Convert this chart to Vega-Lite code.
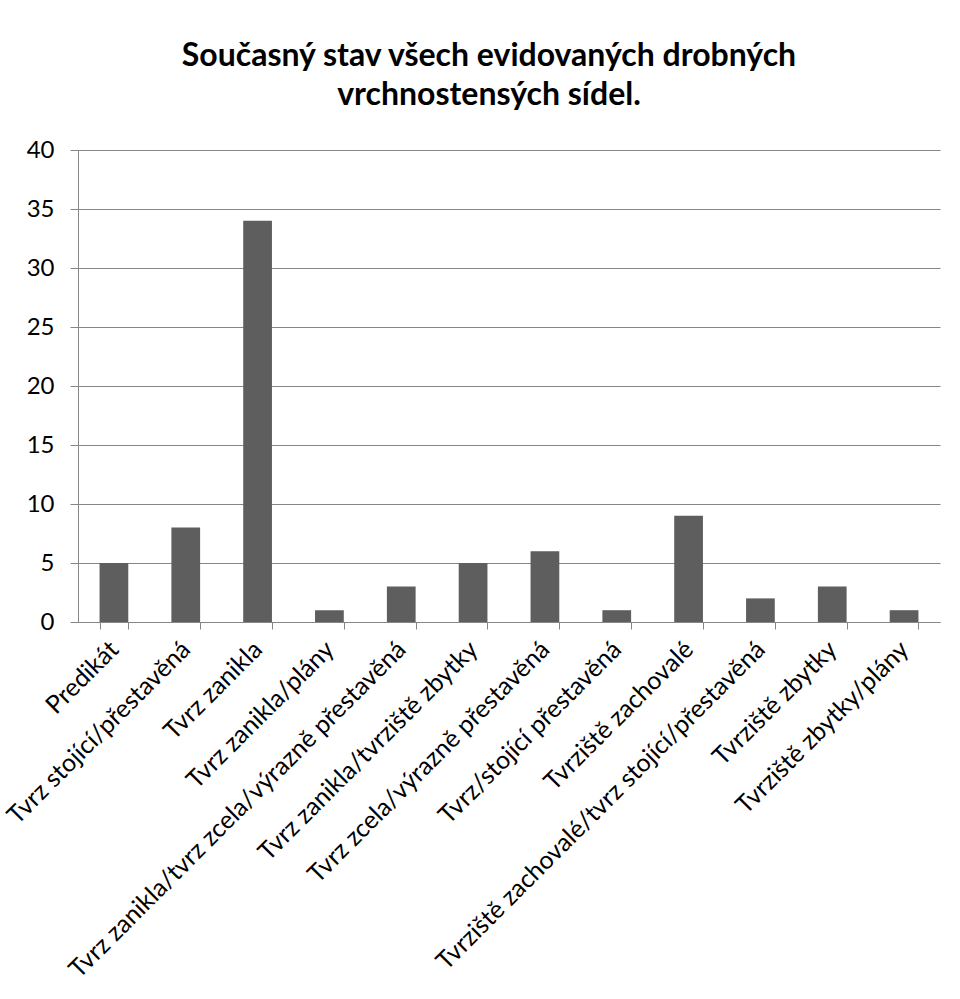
{
  "$schema": "https://vega.github.io/schema/vega-lite/v6.json",
  "autosize": {"type": "none"},
  "width": 862,
  "height": 472,
  "padding": {"left": 78, "top": 150, "right": 20, "bottom": 377},
  "background": "white",
  "title": {
    "text": ["Současný stav všech evidovaných drobných", "vrchnostensých sídel."],
    "font": "Lato",
    "fontSize": 32,
    "fontWeight": "bold",
    "color": "black",
    "anchor": "middle",
    "frame": "group",
    "dx": -20,
    "offset": 26,
    "lineHeight": 39
  },
  "data": {
    "values": [
      {"stav": "Predikát", "pocet": 5},
      {"stav": "Tvrz stojící/přestavěná", "pocet": 8},
      {"stav": "Tvrz zanikla", "pocet": 34},
      {"stav": "Tvrz zanikla/plány", "pocet": 1},
      {"stav": "Tvrz zanikla/tvrz zcela/výrazně přestavěná", "pocet": 3},
      {"stav": "Tvrz zanikla/tvrziště zbytky", "pocet": 5},
      {"stav": "Tvrz zcela/výrazně přestavěná", "pocet": 6},
      {"stav": "Tvrz/stojící přestavěná", "pocet": 1},
      {"stav": "Tvrziště zachovalé", "pocet": 9},
      {"stav": "Tvrziště zachovalé/tvrz stojící/přestavěná", "pocet": 2},
      {"stav": "Tvrziště zbytky", "pocet": 3},
      {"stav": "Tvrziště zbytky/plány", "pocet": 1}
    ]
  },
  "mark": {"type": "bar", "color": "#5e5e5e"},
  "encoding": {
    "x": {
      "field": "stav",
      "type": "nominal",
      "sort": null,
      "scale": {"paddingInner": 0.6, "paddingOuter": 0.3},
      "axis": {
        "title": null,
        "labelAngle": -45,
        "labelAlign": "right",
        "labelBaseline": "middle",
        "labelFont": "Lato",
        "labelFontSize": 25,
        "labelColor": "black",
        "labelLimit": 800,
        "labelPadding": 16,
        "labelOverlap": false,
        "tickBand": "extent",
        "tickSize": 7,
        "tickColor": "#868686",
        "domainColor": "#868686",
        "grid": false
      }
    },
    "y": {
      "field": "pocet",
      "type": "quantitative",
      "scale": {"domain": [0, 40]},
      "axis": {
        "title": null,
        "values": [0, 5, 10, 15, 20, 25, 30, 35, 40],
        "labelFont": "Lato",
        "labelFontSize": 24,
        "labelColor": "black",
        "labelPadding": 16,
        "tickSize": 8,
        "tickColor": "#868686",
        "domainColor": "#868686",
        "grid": true,
        "gridColor": "#868686"
      }
    }
  },
  "config": {"view": {"stroke": null}}
}
